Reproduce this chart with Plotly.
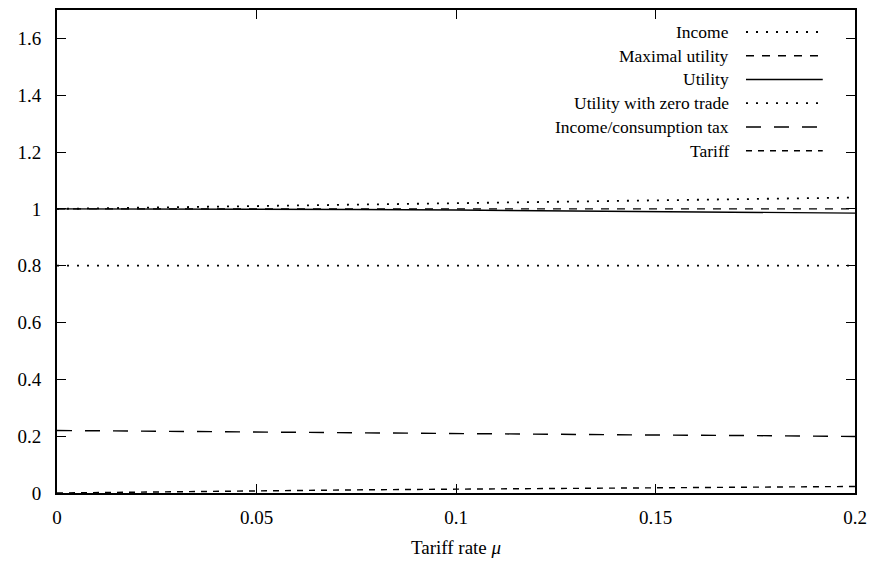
import plotly.graph_objects as go

# ---- data ----
mu = [0.0, 0.025, 0.05, 0.075, 0.1, 0.125, 0.15, 0.175, 0.2]
income = [1.0, 1.005, 1.010, 1.015, 1.020, 1.025, 1.030, 1.035, 1.040]
maximal_utility = [1.0, 1.0, 1.0, 1.0, 1.0, 1.0, 1.0, 1.0, 1.0]
utility = [1.0, 0.9997, 0.999, 0.998, 0.996, 0.9935, 0.991, 0.988, 0.985]
utility_zero_trade = [0.8, 0.8, 0.8, 0.8, 0.8, 0.8, 0.8, 0.8, 0.8]
income_tax = [0.220, 0.217, 0.214, 0.212, 0.209, 0.207, 0.204, 0.202, 0.199]
tariff = [0.0, 0.0045, 0.008, 0.011, 0.0135, 0.016, 0.0185, 0.021, 0.023]

names = ["Income", "Maximal utility", "Utility", "Utility with zero trade",
         "Income/consumption tax", "Tariff"]
series = [income, maximal_utility, utility, utility_zero_trade, income_tax, tariff]
dashes = ["2px,8px", "8px,8px", "solid", "2px,8px", "15px,13px", "6px,6px"]
widths = [1.8, 1.4, 1.4, 1.8, 1.4, 1.4]

x_ticks = [0, 0.05, 0.1, 0.15, 0.2]
y_ticks = [0, 0.2, 0.4, 0.6, 0.8, 1, 1.2, 1.4, 1.6]

FONT = "Liberation Serif"

fig = go.Figure()
for name, ys, d, w in zip(names, series, dashes, widths):
    fig.add_trace(go.Scatter(x=mu, y=ys, mode="lines", name=name,
                             line=dict(color="black", dash=d, width=w),
                             showlegend=False))

# manual legend: text right-aligned, sample line to the right
row_top = 0.9545
row_step = 0.04916
for i, (name, d, w) in enumerate(zip(names, dashes, widths)):
    yy = row_top - i * row_step
    fig.add_annotation(xref="paper", yref="paper", x=0.8446, y=yy,
                       text=name, showarrow=False, xanchor="right",
                       yanchor="middle", font=dict(family=FONT, size=17.5, color="black"))
    fig.add_shape(type="line", xref="paper", yref="paper",
                  x0=0.8634, x1=0.9596, y0=yy, y1=yy,
                  line=dict(color="black", dash=d, width=w))

axis_common = dict(showline=True, linecolor="black", linewidth=2, mirror="ticks",
                   ticks="inside", ticklen=9, tickwidth=1.3, tickcolor="black",
                   showgrid=False, zeroline=False, automargin=False,
                   tickfont=dict(family=FONT, size=19, color="black"))

fig.update_layout(
    width=867, height=559,
    margin=dict(l=49, r=20, t=2, b=74),
    paper_bgcolor="white", plot_bgcolor="white",
    xaxis=dict(range=[0, 0.2], tickvals=x_ticks, ticklabelstandoff=6,
               title=dict(text="Tariff rate <i>μ</i>", standoff=14,
                          font=dict(family=FONT, size=19, color="black")),
               **axis_common),
    yaxis=dict(range=[0, 1.7], tickvals=y_ticks, ticklabelstandoff=10,
               **axis_common),
    font=dict(family=FONT, color="black"),
)

fig.write_html("out.html")
